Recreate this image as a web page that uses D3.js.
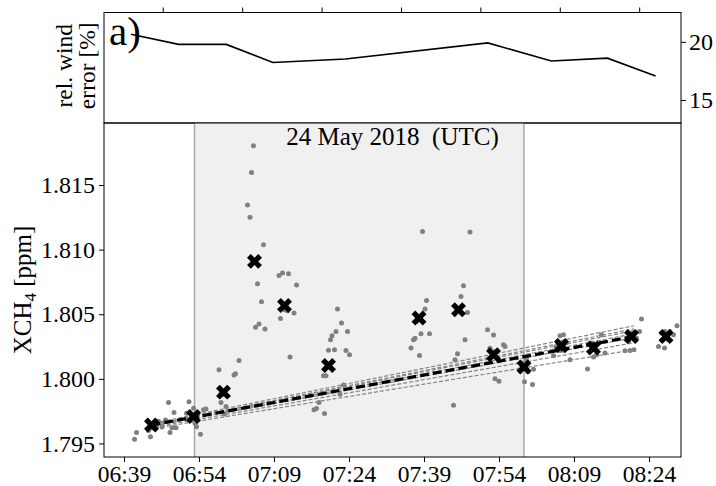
<!DOCTYPE html>
<html>
<head>
<meta charset="utf-8">
<script src="https://cdn.jsdelivr.net/npm/d3@7"></script>
<style>
  body { margin: 0; background: #fff; }
  text { font-family: "Liberation Serif", "Times New Roman", serif; fill: #000; }
</style>
</head>
<body>
<svg id="chart" width="716" height="486"></svg>
<script>
// times are minutes after 06:00 UTC on 24 May 2018

// single soundings (grey dots)
var obsTime = [
  41.1, 41.5, 43.9, 44.3, 47.9, 49.0, 47.3, 48.2, 48.6, 49.4, 45.9, 44.6, 45.6, 46.6,
  52.0, 51.5, 52.2, 53.2, 53.5, 54.3, 52.9, 54.9, 53.8, 52.6, 55.4,
  58.0, 62.0, 61.3, 61.0, 58.4, 59.1, 59.4, 58.4, 59.2,
  64.9, 64.5, 63.7, 64.2, 66.9, 65.7, 66.5, 65.3, 66.0, 67.2,
  70.0, 70.7, 71.9, 73.5, 71.2, 71.7, 73.0, 70.3, 72.2,
  81.7, 82.5, 81.4, 83.7, 80.6, 80.3, 79.9, 81.1, 83.4, 84.1, 78.9, 79.4, 77.0, 77.5, 79.1, 78.0, 82.9, 82.2,
  99.5, 99.2, 98.4, 100.1, 97.2, 96.9, 96.4, 98.1, 97.5, 98.7,
  106.9, 106.4, 107.7, 107.2, 105.7, 105.2, 104.9, 108.2,
  111.7, 112.9, 112.2, 113.0, 113.2, 114.0, 114.9, 115.2,
  118.5, 119.2, 118.1, 120.9, 119.1, 120.7, 119.5, 119.8,
  126.2, 126.9, 125.7, 127.4, 126.2, 127.0, 124.9, 128.2, 125.4,
  131.9, 132.5, 133.2, 132.9, 133.5, 131.7, 135.2, 134.5,
  140.5, 140.9, 139.5, 141.5, 139.2, 140.2, 141.0, 142.5, 142.1, 139.9,
  146.5, 147.2, 148.2, 146.7, 147.9, 145.9, 147.1, 149.6, 148.9
];
var obsXch4 = [
  1.79533, 1.79585, 1.79601, 1.79552, 1.79816, 1.79739, 1.79682, 1.79584, 1.79622, 1.79622, 1.79671, 1.79620, 1.79647, 1.79628,
  1.79822, 1.79734, 1.79682, 1.79657, 1.79630, 1.79571, 1.79773, 1.79760, 1.79736, 1.79698, 1.79767,
  1.80070, 1.80142, 1.80039, 1.80029, 1.79816, 1.79727, 1.79785, 1.79884, 1.79876,
  1.81803, 1.81596, 1.81346, 1.81250, 1.81038, 1.80736, 1.80597, 1.80399, 1.80424, 1.80385,
  1.80800, 1.80819, 1.80814, 1.80726, 1.80535, 1.80527, 1.80509, 1.80467, 1.80168,
  1.80540, 1.80432, 1.80366, 1.80366, 1.80333, 1.80302, 1.80221, 1.80225, 1.80219, 1.80186, 1.80023, 1.80023, 1.79760, 1.79770, 1.79731, 1.79816, 1.79953, 1.79881,
  1.80607, 1.80540, 1.80349, 1.80349, 1.80315, 1.80302, 1.80238, 1.80180, 1.80444, 1.81141,
  1.80721, 1.80638, 1.80514, 1.80302, 1.80194, 1.80147, 1.79796, 1.81137,
  1.80380, 1.80339, 1.80236, 1.80209, 1.80000, 1.79981, 1.80263, 1.80250,
  1.80122, 1.80083, 1.80070, 1.80075, 1.79977, 1.79956, 1.80147, 1.80054,
  1.80333, 1.80341, 1.80289, 1.80277, 1.80219, 1.80219, 1.80178, 1.80147, 1.80250,
  1.80263, 1.80277, 1.80225, 1.80168, 1.80186, 1.80077, 1.80199, 1.80341,
  1.80354, 1.80341, 1.80302, 1.80315, 1.80217, 1.80219, 1.80225, 1.80463, 1.80366, 1.80289,
  1.80354, 1.80366, 1.80366, 1.80302, 1.80302, 1.80250, 1.80238, 1.80411, 1.80341
];

// overpass means (black crosses)
var meanTime = [44.5, 52.9, 58.9, 65.1, 71.1, 79.9, 98.0, 105.9, 112.9, 119.0, 126.5, 132.9, 140.5, 147.4];
var meanXch4 = [1.79643, 1.79708, 1.79897, 1.80909, 1.80568, 1.80103, 1.80470, 1.80535, 1.80186, 1.80091, 1.80258, 1.80238, 1.80328, 1.80328];

// background fits
var fitTime = [44.0, 141.0];
var fitMean = [1.79643, 1.80328];
var fitStart = [1.7965, 1.7964, 1.7964, 1.7963, 1.7963, 1.7962, 1.7961];
var fitEnd = [1.80411, 1.80387, 1.80372, 1.80349, 1.80318, 1.80279, 1.80225];

var shadeTime = [53.1, 119.0];

// relative wind error, top panel
var windTime = [48.0, 57.0, 66.0, 74.8, 88.5, 115.4, 127.4, 138.0, 147.1];
var windErr = [20.66, 19.78, 19.78, 18.23, 18.52, 19.91, 18.35, 18.60, 17.06];

var xTickLabels = ["06:39", "06:54", "07:09", "07:24", "07:39", "07:54", "08:09", "08:24"];
var windTickLabels = ["06:54", "07:09", "07:24", "07:39", "07:54", "08:09", "08:24"];
var yTicks = [1.795, 1.800, 1.805, 1.810, 1.815];
var windTicks = [15, 20];

var BASE = Date.UTC(2018, 4, 24, 6, 0);
function tm(m) { return new Date(BASE + m * 60000); }
function hm(s) { var p = s.split(":").map(Number); return tm((p[0] - 6) * 60 + p[1]); }

var svg = d3.select("#chart");
var left = 104, right = 681;
var top1 = 12.5, bot1 = 123, bot2 = 457;

// scales
var x = d3.scaleUtc().domain([tm(35), tm(150.4)]).range([left, right]);
var y = d3.scaleLinear().domain([1.79395, 1.8198]).range([bot2, bot1]);
var xw = d3.scaleUtc().domain([tm(42.9), tm(151.9)]).range([left, right]);
var yw = d3.scaleLinear().domain([13.03, 22.52]).range([bot1, top1]);

// ---- top panel ----
var windPanel = svg.append("g");

windPanel.append("path")
  .datum(windTime.map(function (t, i) { return [t, windErr[i]]; }))
  .attr("fill", "none")
  .attr("stroke", "#000")
  .attr("stroke-width", 1.6)
  .attr("d", d3.line().x(d => xw(tm(d[0]))).y(d => yw(d[1])));

windPanel.append("g")
  .attr("transform", `translate(0, ${top1})`)
  .call(d3.axisTop(xw).tickValues(windTickLabels.map(hm)).tickSize(5).tickFormat(""))
  .call(g => g.select(".domain").remove());

windPanel.append("g")
  .attr("transform", `translate(${right}, 0)`)
  .call(d3.axisRight(yw).tickValues(windTicks).tickSize(5).tickPadding(3))
  .call(g => g.select(".domain").remove())
  .selectAll("text").attr("font-size", 24).attr("font-family", "Liberation Serif");

windPanel.append("rect")
  .attr("x", left).attr("y", top1)
  .attr("width", right - left).attr("height", bot1 - top1)
  .attr("fill", "none").attr("stroke", "#000");

windPanel.append("text")
  .attr("x", 109).attr("y", 45)
  .attr("font-size", 41)
  .text("a)");

var wl = windPanel.append("text")
  .attr("transform", `translate(0, ${(top1 + bot1) / 2 - 2}) rotate(-90)`)
  .attr("text-anchor", "middle")
  .attr("font-size", 23.5);
wl.append("tspan").attr("x", 0).attr("y", 72).text("rel. wind");
wl.append("tspan").attr("x", 0).attr("y", 95).text("error [%]");

// ---- main panel ----
var main = svg.append("g");

main.append("rect")
  .attr("x", x(tm(shadeTime[0]))).attr("y", bot1)
  .attr("width", x(tm(shadeTime[1])) - x(tm(shadeTime[0])))
  .attr("height", bot2 - bot1)
  .attr("fill", "#f0f0f0");

main.selectAll(".edge")
  .data(shadeTime)
  .enter().append("line")
  .attr("x1", d => x(tm(d))).attr("x2", d => x(tm(d)))
  .attr("y1", bot1).attr("y2", bot2)
  .attr("stroke", "#a8a8a8").attr("stroke-width", 1.5);

main.append("text")
  .attr("x", (left + right) / 2).attr("y", 145)
  .attr("text-anchor", "middle")
  .attr("font-size", 25)
  .attr("xml:space", "preserve")
  .text("24 May 2018  (UTC)");

// dots
main.selectAll(".obs")
  .data(obsTime.map(function (t, i) { return [t, obsXch4[i]]; }))
  .enter().append("circle")
  .attr("cx", d => x(tm(d[0])))
  .attr("cy", d => y(d[1]))
  .attr("r", 2.5)
  .attr("fill", "#808080");

// fit lines
main.selectAll(".fit")
  .data(fitStart.map(function (s, i) { return [s, fitEnd[i]]; }))
  .enter().append("line")
  .attr("x1", x(tm(fitTime[0]))).attr("x2", x(tm(fitTime[1])))
  .attr("y1", d => y(d[0])).attr("y2", d => y(d[1]))
  .attr("stroke", "#858585").attr("stroke-width", 1.2)
  .attr("stroke-dasharray", "4,2");

// crosses
var cross = d3.symbol().type(d3.symbolCross).size(140);
main.selectAll(".mean")
  .data(meanTime.map(function (t, i) { return [t, meanXch4[i]]; }))
  .enter().append("path")
  .attr("d", cross)
  .attr("transform", d => `translate(${x(tm(d[0]))}, ${y(d[1])}) rotate(45)`)
  .attr("fill", "#000");

main.append("line")
  .attr("x1", x(tm(44.5))).attr("x2", x(tm(fitTime[1])))
  .attr("y1", y(fitMean[0])).attr("y2", y(fitMean[1]))
  .attr("stroke", "#000").attr("stroke-width", 3.2)
  .attr("stroke-dasharray", "9,4");

// axes
main.append("g")
  .attr("transform", `translate(0, ${bot2})`)
  .call(d3.axisBottom(x).tickValues(xTickLabels.map(hm)).tickSize(5).tickPadding(3)
    .tickFormat(d3.utcFormat("%H:%M")))
  .call(g => g.select(".domain").remove())
  .selectAll("text").attr("font-size", 23.5).attr("font-family", "Liberation Serif");

main.append("g")
  .attr("transform", `translate(${left}, 0)`)
  .call(d3.axisLeft(y).tickValues(yTicks).tickSize(5).tickPadding(4).tickFormat(d3.format(".3f")))
  .call(g => g.select(".domain").remove())
  .selectAll("text").attr("font-size", 24).attr("font-family", "Liberation Serif");

main.append("rect")
  .attr("x", left).attr("y", bot1)
  .attr("width", right - left).attr("height", bot2 - bot1)
  .attr("fill", "none").attr("stroke", "#000");

var yl = main.append("text")
  .attr("transform", `translate(31, ${(bot1 + bot2) / 2}) rotate(-90)`)
  .attr("text-anchor", "middle")
  .attr("fill", "#000")
  .attr("font-size", 25);
yl.append("tspan").text("XCH");
yl.append("tspan").attr("font-size", 17).attr("dy", 5).text("4");
yl.append("tspan").attr("dy", -5).text(" [ppm]");
</script>
</body>
</html>
